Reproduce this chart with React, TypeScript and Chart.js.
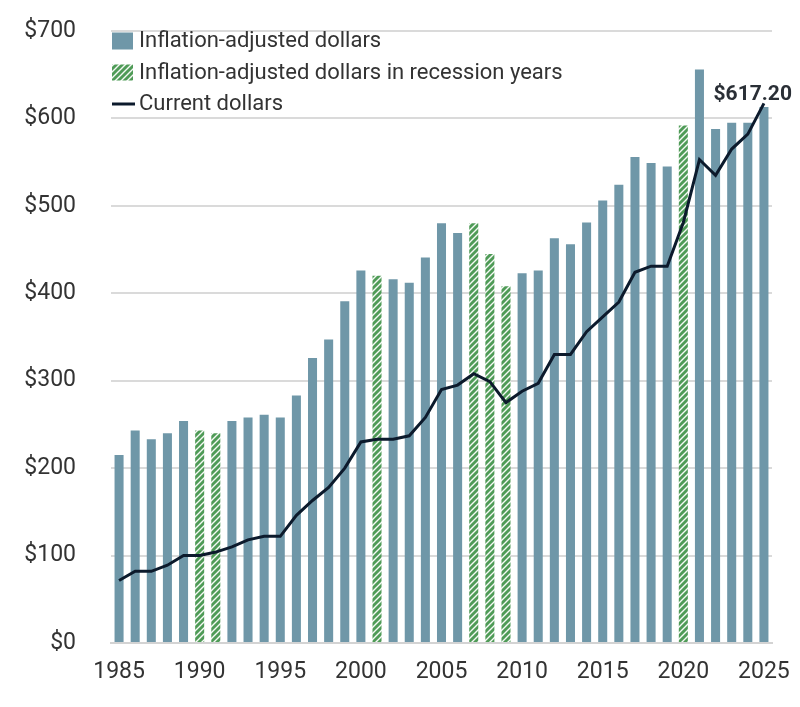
import React, { useEffect, useRef } from "react";
import { Chart, registerables } from "chart.js";

Chart.register(...registerables);

const years: number[] = [
  1985, 1986, 1987, 1988, 1989, 1990, 1991, 1992, 1993, 1994, 1995,
  1996, 1997, 1998, 1999, 2000, 2001, 2002, 2003, 2004, 2005,
  2006, 2007, 2008, 2009, 2010, 2011, 2012, 2013, 2014, 2015,
  2016, 2017, 2018, 2019, 2020, 2021, 2022, 2023, 2024, 2025,
];

const inflationAdjusted: number[] = [
  215, 243, 233, 240, 254, 243, 240, 254, 258, 261, 258,
  283, 326, 347, 391, 426, 420, 416, 412, 441, 480,
  469, 480, 445, 408, 423, 426, 463, 456, 481, 506,
  524, 556, 549, 545, 592, 656, 588, 595, 595, 613,
];

const currentDollars: number[] = [
  71.5, 82, 82, 89, 100, 100, 104, 110, 118, 122, 122,
  146, 163, 178, 200, 230, 233, 233, 237, 258, 290,
  295, 308, 299, 275, 288, 297, 330, 330, 356, 373,
  390, 424, 431, 431, 481, 553, 535, 565, 582, 617.2,
];

const recessionYears: number[] = [1990, 1991, 2001, 2007, 2008, 2009, 2020];

const legendLabels: string[] = [
  "Inflation-adjusted dollars",
  "Inflation-adjusted dollars in recession years",
  "Current dollars",
];

const yTicks: number[] = [0, 100, 200, 300, 400, 500, 600, 700];

const BLUE = "#6f97a8";
const GREEN = "#4f9b57";
const LINE = "#0c1a2c";
const TEXT = "#333333";
const FONT = "Roboto, 'Noto Sans', sans-serif";

function makePattern(): CanvasPattern | string {
  const s = 6;
  const c = document.createElement("canvas");
  c.width = s;
  c.height = s;
  const g = c.getContext("2d");
  if (!g) return GREEN;
  g.fillStyle = GREEN;
  g.fillRect(0, 0, s, s);
  g.strokeStyle = "rgba(255,255,255,0.95)";
  g.lineWidth = 1.4;
  g.beginPath();
  g.moveTo(-1, s + 1);
  g.lineTo(s + 1, -1);
  g.moveTo(-2, 2);
  g.lineTo(2, -2);
  g.moveTo(s - 2, s + 2);
  g.lineTo(s + 2, s - 2);
  g.stroke();
  return g.createPattern(c, "repeat") || GREEN;
}

export default function App() {
  const ref = useRef<HTMLCanvasElement>(null);

  useEffect(() => {
    const canvas = ref.current;
    if (!canvas) return;
    const pattern = makePattern();
    const barColors = years.map((y) => (recessionYears.includes(y) ? pattern : BLUE));

    const overlay = {
      id: "overlay",
      afterDraw(chart: any) {
        const ctx: CanvasRenderingContext2D = chart.ctx;
        const area = chart.chartArea;
        ctx.save();
        const bx = area.left + 1;
        const tx = area.left + 28;
        ctx.fillStyle = BLUE;
        ctx.fillRect(bx, area.top + 1.5, 21, 17);
        ctx.fillStyle = pattern as any;
        ctx.fillRect(bx, area.top + 33.5, 21, 16);
        ctx.strokeStyle = LINE;
        ctx.lineWidth = 3;
        ctx.beginPath();
        ctx.moveTo(bx, area.top + 73);
        ctx.lineTo(bx + 23, area.top + 73);
        ctx.stroke();

        ctx.fillStyle = TEXT;
        ctx.font = `22px ${FONT}`;
        ctx.textAlign = "left";
        ctx.textBaseline = "alphabetic";
        ctx.fillText(legendLabels[0], tx, area.top + 16);
        ctx.fillText(legendLabels[1], tx, area.top + 48);
        ctx.fillText(legendLabels[2], tx, area.top + 79);

        const meta = chart.getDatasetMeta(0);
        const pt = meta.data[meta.data.length - 1];
        if (pt) {
          ctx.font = `bold 21px ${FONT}`;
          ctx.textAlign = "right";
          ctx.fillStyle = "#2a2f36";
          const v = currentDollars[currentDollars.length - 1];
          ctx.fillText("$" + v.toFixed(2), pt.x + 28, pt.y - 3);
        }
        ctx.restore();
      },
    };

    const chart = new Chart(canvas, {
      type: "bar",
      data: {
        labels: years.map(String),
        datasets: [
          {
            type: "line",
            label: legendLabels[2],
            data: currentDollars,
            borderColor: LINE,
            borderWidth: 3,
            pointRadius: 0,
            tension: 0,
            fill: false,
            order: 1,
          } as any,
          {
            type: "bar",
            label: legendLabels[0],
            data: inflationAdjusted,
            backgroundColor: barColors as any,
            borderWidth: 0,
            barPercentage: 0.56,
            categoryPercentage: 1,
            order: 2,
          } as any,
        ],
      },
      options: {
        animation: false,
        responsive: true,
        maintainAspectRatio: false,
        layout: { padding: { top: 23, right: 20, bottom: 14, left: 8 } },
        plugins: {
          legend: { display: false },
          tooltip: { enabled: false },
        },
        scales: {
          x: {
            grid: { display: false, drawTicks: false },
            border: { display: true, color: "#d3d3d3", width: 2 },
            ticks: {
              autoSkip: false,
              maxRotation: 0,
              minRotation: 0,
              padding: 15,
              color: TEXT,
              font: { family: FONT, size: 23 },
              callback: (_v: any, i: number) => (years[i] % 5 === 0 ? String(years[i]) : ""),
            },
            afterFit: (scale: any) => {
              scale.height = 42;
              scale.paddingLeft = 0;
              scale.paddingRight = 0;
            },
          },
          y: {
            min: yTicks[0],
            max: yTicks[yTicks.length - 1],
            grid: { color: "#dadada", lineWidth: 2, drawTicks: false },
            border: { display: false },
            afterBuildTicks: (scale: any) => {
              scale.ticks = yTicks.map((v) => ({ value: v }));
            },
            ticks: {
              padding: 35,
              color: TEXT,
              font: { family: FONT, size: 23 },
              callback: (v: any) => "$" + v,
            },
            afterFit: (scale: any) => {
              scale.width = 95;
              scale.paddingTop = 0;
              scale.paddingBottom = 0;
            },
          },
        },
      },
      plugins: [overlay],
    });

    return () => chart.destroy();
  }, []);

  return (
    <div style={{ width: 784, height: 691, position: "relative" }}>
      <canvas ref={ref} />
    </div>
  );
}
